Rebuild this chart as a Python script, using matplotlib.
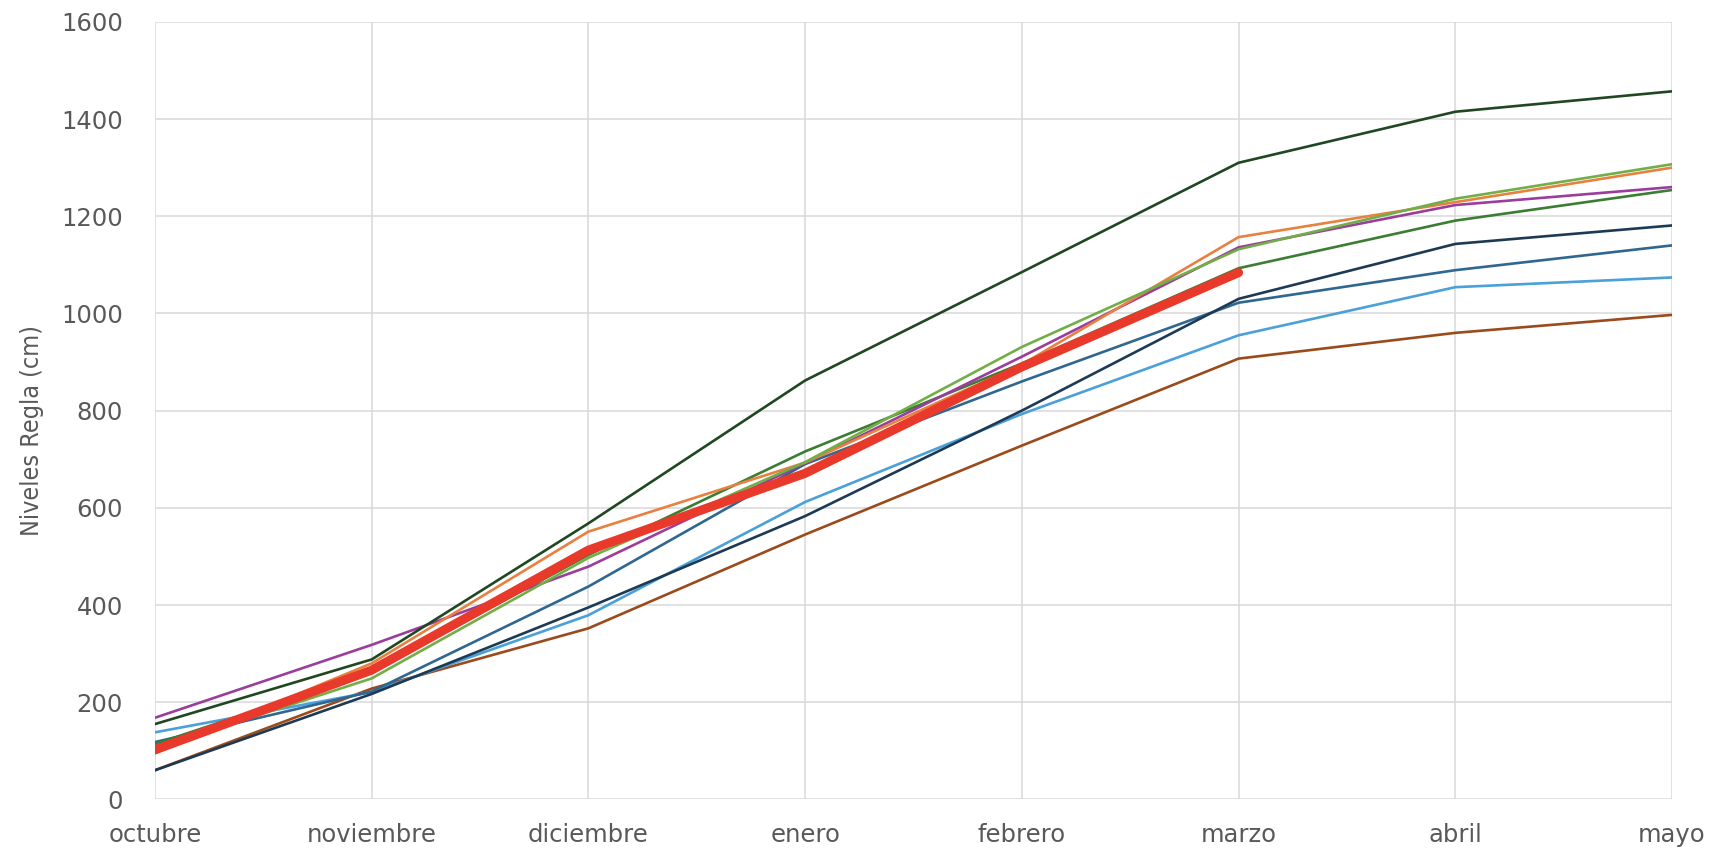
import matplotlib.pyplot as plt
import numpy as np

# meses de la temporada
meses = ["octubre", "noviembre", "diciembre", "enero", "febrero", "marzo", "abril", "mayo"]

# niveles regla (cm) por temporada
serie_verde_osc = [155, 288, 568, 862, 1085, 1310, 1415, 1457]
serie_naranja = [95, 280, 551, 693, 895, 1157, 1229, 1300]
serie_verde_cl = [104, 249, 497, 694, 931, 1132, 1236, 1307]
serie_morado = [168, 318, 479, 692, 911, 1136, 1223, 1260]
serie_verde_med = [114, 262, 503, 716, 897, 1093, 1191, 1254]
serie_azul_osc = [60, 217, 395, 583, 800, 1030, 1143, 1181]
serie_azul_med = [118, 222, 438, 690, 860, 1022, 1089, 1140]
serie_celeste = [138, 221, 379, 612, 793, 955, 1054, 1074]
serie_cafe = [60, 228, 352, 545, 728, 907, 960, 997]
serie_actual = [102, 266, 513, 671, 890, 1084]

colores = {
    "verde_osc": "#1f4721",
    "naranja": "#e8803f",
    "verde_cl": "#72ae48",
    "morado": "#9a3d9c",
    "verde_med": "#3b7d32",
    "azul_osc": "#1d3a55",
    "azul_med": "#2f6790",
    "celeste": "#4aa0d9",
    "cafe": "#9b4a1c",
    "actual": "#e8392a",
}

x = np.arange(len(meses))

fig = plt.figure(figsize=(17.1, 8.56), dpi=100)
ax = fig.add_axes([0.0906, 0.0661, 0.8872, 0.9084])

lw = 1.9
ax.plot(x, serie_cafe, color=colores["cafe"], lw=lw)
ax.plot(x, serie_celeste, color=colores["celeste"], lw=lw)
ax.plot(x, serie_azul_med, color=colores["azul_med"], lw=lw)
ax.plot(x, serie_azul_osc, color=colores["azul_osc"], lw=lw)
ax.plot(x, serie_verde_med, color=colores["verde_med"], lw=lw)
ax.plot(x, serie_morado, color=colores["morado"], lw=lw)
ax.plot(x, serie_naranja, color=colores["naranja"], lw=lw)
ax.plot(x, serie_verde_cl, color=colores["verde_cl"], lw=lw)
ax.plot(x, serie_verde_osc, color=colores["verde_osc"], lw=lw)
ax.plot(x[:len(serie_actual)], serie_actual, color=colores["actual"], lw=6.5,
        solid_capstyle="round", solid_joinstyle="round", zorder=5)

ax.set_xlim(0, len(meses) - 1)
ax.set_ylim(0, 1600)
ax.set_yticks(np.arange(0, 1601, 200))
ax.set_xticks(x)
ax.set_xticklabels(meses)

ax.grid(True, color="#d9d9d9", lw=1.1)
ax.set_axisbelow(True)
for s in ax.spines.values():
    s.set_visible(False)
ax.tick_params(length=0, labelsize=17.5, colors="#595959")
ax.tick_params(axis="y", pad=23)
ax.tick_params(axis="x", pad=17)

ax.set_ylabel("Niveles Regla (cm)", fontsize=18, color="#595959",
              family="DejaVu Sans", stretch="condensed")
ax.yaxis.set_label_coords(-0.073, 0.475)

fig.savefig("out.png", dpi=100)
